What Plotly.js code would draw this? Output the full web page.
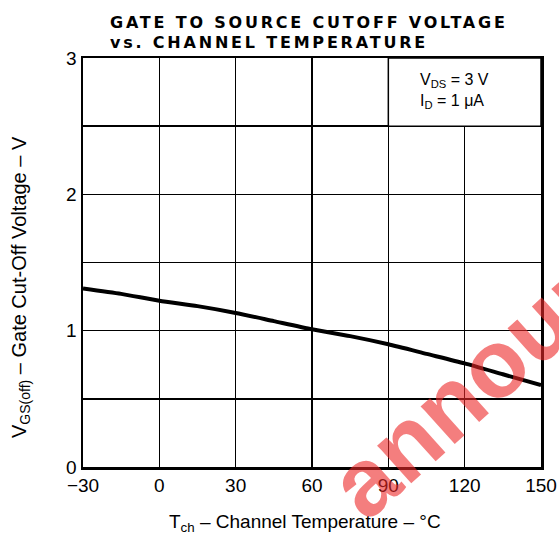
<!DOCTYPE html>
<html>
<head>
<meta charset="utf-8">
<script src="https://cdn.plot.ly/plotly-3.0.1.min.js"></script>
<style>
html,body{margin:0;padding:0;background:#fff;}
#chart{width:559px;height:542px;}
#chart .gtitle{letter-spacing:2.8px;}
</style>
</head>
<body>
<div id="chart"></div>
<script>
// Channel temperature (°C)
const tempC = [-30, -15, 0, 15, 30, 45, 60, 75, 90, 105, 120, 135, 150];
// Gate cut-off voltage VGS(off) (V)
const vgsOff = [1.31, 1.27, 1.22, 1.18, 1.13, 1.07, 1.01, 0.96, 0.90, 0.83, 0.76, 0.68, 0.60];
const xTicks = [-30, 0, 30, 60, 90, 120, 150];
const yTicks = [0, 0.5, 1, 1.5, 2, 2.5, 3];
const yTickText = ['0', '', '1', '', '2', '', '3'];

const font = 'Liberation Sans, Arial, sans-serif';

const trace = {
  x: tempC, y: vgsOff, type: 'scatter', mode: 'lines',
  line: {color: '#000', width: 4, shape: 'spline', smoothing: 0.6},
  hoverinfo: 'skip'
};

const layout = {
  width: 559, height: 542,
  margin: {l: 83, r: 18, t: 58, b: 75},
  paper_bgcolor: '#fff', plot_bgcolor: '#fff',
  showlegend: false,
  font: {family: font, color: '#000'},
  title: {
    text: 'GATE TO SOURCE CUTOFF VOLTAGE<br>vs. CHANNEL TEMPERATURE',
    font: {family: 'DejaVu Sans, sans-serif', size: 16, weight: 'bold', color: '#000'},
    x: 110 / 559, xanchor: 'left', xref: 'container',
    y: 1 - 27.5 / 542, yanchor: 'middle', yref: 'container'
  },
  xaxis: {
    range: [-30, 150], tickvals: xTicks,
    tickfont: {size: 19, family: font},
    showgrid: true, gridcolor: '#000', gridwidth: 1.5,
    zeroline: false, showline: true, linecolor: '#000', linewidth: 2.5, mirror: true,
    ticks: '', fixedrange: true
  },
  yaxis: {
    range: [0, 3], tickvals: yTicks, ticktext: yTickText,
    tickfont: {size: 19, family: font},
    showgrid: true, gridcolor: '#000', gridwidth: 1.5,
    zeroline: false, showline: true, linecolor: '#000', linewidth: 2.5, mirror: true,
    ticks: '', fixedrange: true
  },
  shapes: [{
    type: 'rect', xref: 'x', yref: 'y', x0: 90, x1: 150, y0: 2.5, y1: 3,
    fillcolor: '#fff', line: {color: '#000', width: 1.5}, layer: 'above'
  }],
  annotations: [
    {
      text: 'V<sub>GS(off)</sub> – Gate Cut-Off Voltage – V',
      xref: 'paper', yref: 'paper', x: (20 - 83) / 458, y: (467 - 287) / 409,
      xanchor: 'center', yanchor: 'middle', textangle: -90, showarrow: false,
      font: {size: 20, family: font, color: '#000'}
    },
    {
      text: 'T<sub>ch</sub> – Channel Temperature – °C',
      xref: 'paper', yref: 'paper', x: (305 - 83) / 458, y: (467 - 523) / 409,
      xanchor: 'center', yanchor: 'middle', showarrow: false,
      font: {size: 19, family: font, color: '#000'}
    },
    {
      text: 'V<sub>DS</sub> = 3 V<br>I<sub>D</sub> = 1 μA',
      xref: 'paper', yref: 'paper', x: (418 - 83) / 458, y: (467 - 91) / 409,
      xanchor: 'left', yanchor: 'middle', align: 'left', showarrow: false,
      font: {size: 16, family: font, color: '#000'}
    },
    {
      text: 'announced',
      xref: 'paper', yref: 'paper', x: (534 - 83) / 458, y: (467 - 327) / 409,
      xanchor: 'center', yanchor: 'middle', showarrow: false, textangle: -42,
      font: {size: 96, family: font, weight: 'bold', color: 'rgba(236,40,40,0.6)'}
    }
  ]
};

Plotly.newPlot('chart', [trace], layout, {staticPlot: true, displayModeBar: false});
</script>
</body>
</html>
